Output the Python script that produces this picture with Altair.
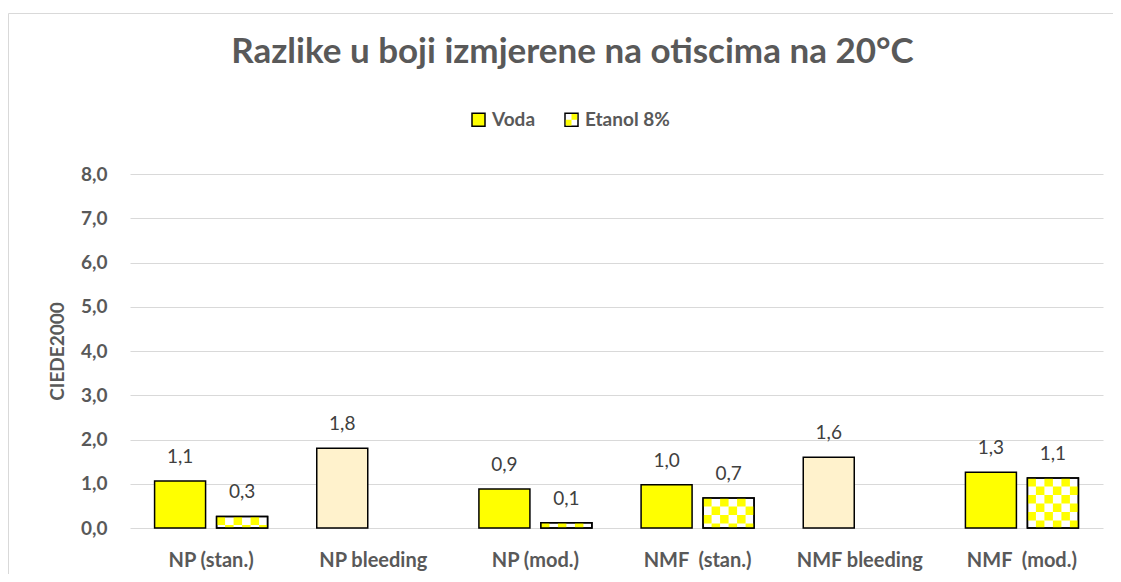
import altair as alt
import pandas as pd

# ---------------- data ----------------
categories = ["NP (stan.)", "NP bleeding", "NP (mod.)",
              "NMF \u00a0(stan.)", "NMF bleeding", "NMF \u00a0(mod.)"]
series_names = ["Voda", "Etanol 8%", "Bleeding"]
series_colors = ["#FFFF00", "#FFFFFF", "#FFF2CC"]
voda = [1.06, None, 0.88, 0.98, None, 1.26]
etanol = [0.26, None, 0.12, 0.68, None, 1.13]
bleeding = [None, 1.80, None, None, 1.60, None]
y_ticks = [0, 1, 2, 3, 4, 5, 6, 7, 8]

rows_left, rows_right = [], []
for c, v, e, b in zip(categories, voda, etanol, bleeding):
    if v is not None:
        rows_left.append({"category": c, "series": "Voda", "value": v})
    if b is not None:
        rows_left.append({"category": c, "series": "Bleeding", "value": b})
    if e is not None:
        rows_right.append({"category": c, "series": "Etanol 8%", "value": e})
left_df = pd.DataFrame(rows_left)
right_df = pd.DataFrame(rows_right)

# ---------------- styles ----------------
FONT = "Lato"
GRAY = "#595959"
BAR_W = 51
SLOT = 31
CELL = 8.5
LEG_X, LEG_Y = 339, -64

X = alt.X("category:N", sort=categories,
          scale=alt.Scale(type="band", domain=categories, paddingInner=0, paddingOuter=0),
          axis=alt.Axis(labelAngle=0, labelFont=FONT, labelFontSize=20, labelFontWeight="bold",
                        labelColor=GRAY, labelPadding=22, ticks=False, tickSize=0,
                        domain=False, grid=False, title=None, labelBaseline="top"))
Y = alt.Y("value:Q", scale=alt.Scale(domain=[0, 8], nice=False, zero=True),
          axis=alt.Axis(values=y_ticks,
                        labelExpr="replace(format(datum.value, '.1f'), '.', ',')",
                        labelFont=FONT, labelFontSize=19, labelFontWeight="bold",
                        labelColor=GRAY, labelPadding=23, ticks=False, tickSize=0,
                        domain=False, gridColor="#D9D9D9", gridWidth=1,
                        title="CIEDE2000", titleFont=FONT, titleFontSize=19,
                        titleFontWeight="bold", titleColor=GRAY, titleX=-73, titleY=177,
                        titleAngle=270, titleAlign="center", titleBaseline="middle"))

legend_common = dict(orient="none", legendX=LEG_X, legendY=LEG_Y, direction="horizontal",
                     title=None, symbolSize=169, labelFont=FONT, labelFontSize=19,
                     labelFontWeight="bold", labelOffset=4, columnPadding=26, padding=0)

COLOR = alt.Color("series:N",
                  scale=alt.Scale(domain=series_names, range=series_colors),
                  legend=alt.Legend(values=["Voda", "Etanol 8%"], symbolType="square",
                                    symbolStrokeWidth=1.5, symbolStrokeColor="black",
                                    labelColor=GRAY, **legend_common))

label_expr = "replace(format(datum.value, '.1f'), '.', ',')"

# ---------------- layers ----------------
frame = alt.Chart(pd.DataFrame({"k": [0]})).mark_rect(
    fill="white", fillOpacity=0, stroke="#D9D9D9", strokeWidth=1
).encode(x=alt.value(-121.5), x2=alt.value(1100), y=alt.value(-160.5), y2=alt.value(600))

left_bars = alt.Chart(left_df).mark_bar(
    width=BAR_W, xOffset=-SLOT, stroke="black", strokeWidth=1.5
).encode(x=X, y=Y, color=COLOR)

right_bars = alt.Chart(right_df).mark_bar(
    width=BAR_W, xOffset=SLOT, stroke="black", strokeWidth=1.5
).encode(x=X, y=Y, color=COLOR)

checker = []
for k in range(6):
    checker.append(
        alt.Chart(right_df).mark_rule(
            xOffset=SLOT + (k - 2.5) * CELL, stroke="#FFFF00", strokeWidth=CELL,
            strokeDash=[CELL, CELL], strokeDashOffset=(CELL if k % 2 else 0)
        ).encode(x=X, y=Y, y2=alt.datum(0))
    )

right_outline = alt.Chart(right_df).mark_bar(
    width=BAR_W, xOffset=SLOT, fill="white", fillOpacity=0, stroke="black", strokeWidth=1.5
).encode(x=X, y=Y)

left_labels = alt.Chart(left_df).transform_calculate(label=label_expr).mark_text(
    xOffset=-SLOT, dy=-24, baseline="middle", font=FONT, fontSize=19, color="#404040"
).encode(x=X, y=Y, text="label:N")

right_labels = alt.Chart(right_df).transform_calculate(label=label_expr).mark_text(
    xOffset=SLOT, dy=-24, baseline="middle", font=FONT, fontSize=19, color="#404040"
).encode(x=X, y=Y, text="label:N")

# overlay legend that paints the checker quadrants on the "Etanol 8%" symbol
legend_overlay = alt.Chart(pd.DataFrame({"s2": ["Voda", "Etanol 8%"]})).transform_filter(
    "false"
).mark_point(filled=True, fill="#FFFF00", opacity=1, strokeWidth=0, size=169).encode(
    shape=alt.Shape("s2:N",
                    scale=alt.Scale(domain=["Voda", "Etanol 8%"],
                                    range=["M0,0L0,0Z",
                                           "M0,-0.88H0.88V0H0Z M-0.88,0H0V0.88H-0.88Z"]),
                    legend=alt.Legend(symbolStrokeWidth=0, symbolFillColor="#FFFF00",
                                      labelColor="rgba(0,0,0,0)", zindex=1, **legend_common))
)

chart = alt.layer(
    frame, left_bars, right_bars, *checker, right_outline, left_labels, right_labels,
    legend_overlay
).properties(
    width=973, height=354,
    title=alt.TitleParams("Razlike u boji izmjerene na otiscima na 20°C", font=FONT,
                          fontSize=35, fontWeight="bold", color=GRAY, anchor="middle",
                          dx=-44, offset=0, dy=57),
    autosize=alt.AutoSizeParams(type="none"),
    padding={"left": 122, "top": 166, "right": 10, "bottom": 46},
).resolve_scale(shape="independent").configure(font=FONT).configure_view(stroke=None)

chart.save("out.html", embed_options={"renderer": "svg", "actions": False})
